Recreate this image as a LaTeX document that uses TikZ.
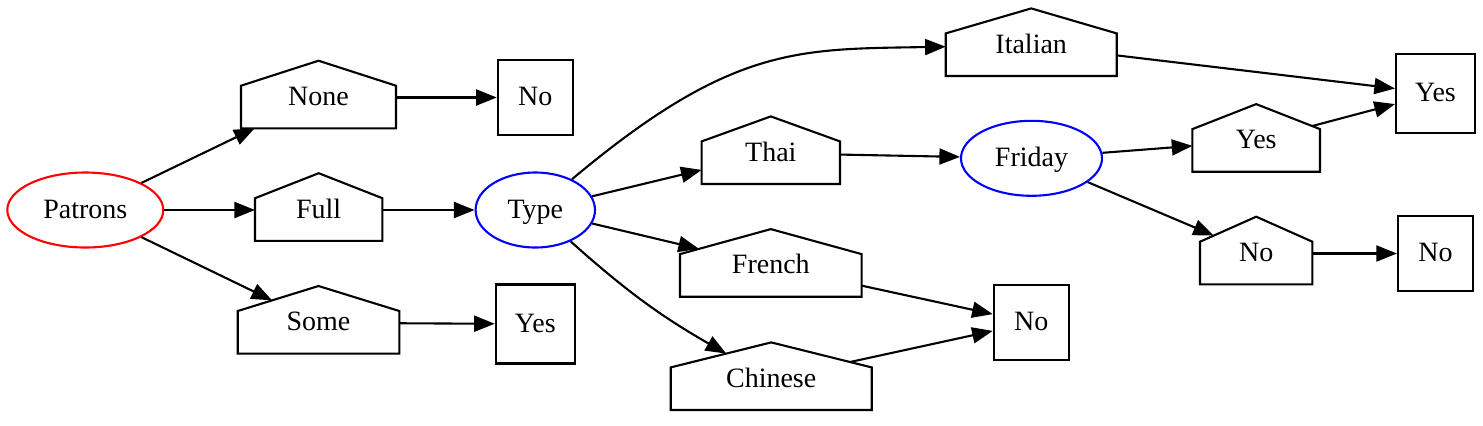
\documentclass[tikz,border=0pt]{standalone}
\usepackage{fontspec}
\setmainfont{Liberation Serif}
\usetikzlibrary{arrows.meta,shapes.geometric}
\makeatletter
\def\houseroof{12.5}
\def\houseup{3}
\pgfdeclareshape{house}{%
  \inheritsavedanchors[from=rectangle]%
  \inheritanchor[from=rectangle]{center}%
  \inheritanchor[from=rectangle]{north}%
  \inheritanchor[from=rectangle]{south}%
  \inheritanchor[from=rectangle]{east}%
  \inheritanchor[from=rectangle]{west}%
  \inheritanchor[from=rectangle]{north east}%
  \inheritanchor[from=rectangle]{north west}%
  \inheritanchor[from=rectangle]{south east}%
  \inheritanchor[from=rectangle]{south west}%
  \backgroundpath{%
    \southwest\edef\hs@x{\the\pgf@x}\edef\hs@y{\the\pgf@y}%
    \northeast\edef\hn@x{\the\pgf@x}\edef\hn@y{\the\pgf@y}%
    \pgfmathsetmacro\hm@x{(\hs@x+\hn@x)/2}%
    \pgfmathsetmacro\hp@y{\hn@y+\houseup}%
    \pgfmathsetmacro\hr@y{\hp@y-\houseroof}%
    \pgfpathmoveto{\pgfpoint{\hs@x}{\hs@y}}%
    \pgfpathlineto{\pgfpoint{\hn@x}{\hs@y}}%
    \pgfpathlineto{\pgfpoint{\hn@x}{\hr@y pt}}%
    \pgfpathlineto{\pgfpoint{\hm@x pt}{\hp@y pt}}%
    \pgfpathlineto{\pgfpoint{\hs@x}{\hr@y pt}}%
    \pgfpathclose
  }%
  \anchorborder{%
    \edef\hd@x{\the\pgf@x}\edef\hd@y{\the\pgf@y}%
    \southwest\edef\hs@x{\the\pgf@x}\edef\hs@y{\the\pgf@y}%
    \northeast\edef\hn@x{\the\pgf@x}\edef\hn@y{\the\pgf@y}%
    \pgfmathsetmacro\h@a{(\hn@x-\hs@x)/2}%
    \pgfmathsetmacro\h@b{(\hn@y-\hs@y)/2}%
    \pgfmathsetmacro\h@p{\h@b+\houseup}%
    \pgfmathsetmacro\h@s{\h@p-\houseroof}%
    \pgfmathsetmacro\h@l{max(veclen(\hd@x,\hd@y),0.001)}%
    \pgfmathsetmacro\h@dx{\hd@x/\h@l}%
    \pgfmathsetmacro\h@dy{\hd@y/\h@l}%
    \pgfmathsetmacro\h@t{\h@a/max(abs(\h@dx),0.01)}%
    \pgfmathtruncatemacro\h@c{\h@dy<0}%
    \ifnum\h@c=1
      \pgfmathsetmacro\h@t{min(\h@t,\h@b/max(abs(\h@dy),0.01))}%
    \else
      \pgfmathtruncatemacro\h@c{\h@a*\h@dy>\h@s*abs(\h@dx)}%
      \ifnum\h@c=1
        \pgfmathsetmacro\h@t{\h@p/(\h@dy+\houseroof*abs(\h@dx)/\h@a)}%
      \fi
    \fi
    \pgfmathsetmacro\h@x{\h@t*\h@dx+(\hs@x+\hn@x)/2}%
    \pgfmathsetmacro\h@y{\h@t*\h@dy+(\hs@y+\hn@y)/2}%
    \pgf@x=\h@x pt\relax
    \pgf@y=\h@y pt\relax
  }%
}
\makeatother
\begin{document}
\begin{tikzpicture}[x=0.5pt,y=-0.5pt,>={Triangle[length=10.3pt,width=8pt]},line width=1.05pt,
	every node/.style={font=\fontsize{14}{17}\selectfont,text height=9.5pt,text depth=1.5pt,inner sep=0pt},
	val/.style={shape=ellipse,draw,minimum height=37.5pt},
	choice/.style={shape=house,draw,outer sep=0pt,minimum height=30.8pt},
	leaf/.style={shape=rectangle,draw,minimum size=37.5pt}]
	\useasboundingbox (0,0) rectangle (1483,425);
	\node[val,red,minimum width=78pt]      (Pat)  at (85.3,210)     {\color{black}Patrons};
	\node[choice,minimum width=77.5pt]     (None) at (318.5,97.5)   {None};
	\node[choice,minimum width=63.7pt]     (Full) at (318.7,210)    {Full};
	\node[choice,minimum width=80.8pt]     (Some) at (318.5,322.8)  {Some};
	\node[leaf]                            (NoA)  at (535.3,97.5)   {No};
	\node[leaf,minimum size=39.5pt]        (YesA) at (535.3,324)    {Yes};
	\node[val,blue,minimum width=59.7pt]   (Type) at (535.3,210)    {\color{black}Type};
	\node[choice,minimum width=85.5pt]     (Ital) at (1031.2,45.2)  {Italian};
	\node[choice,minimum width=69.2pt]     (Thai) at (770.8,153.2)  {Thai};
	\node[choice,minimum width=90.8pt]     (Fren) at (770.8,265.9)  {French};
	\node[choice,minimum width=100.5pt]    (Chin) at (771.2,379.2)  {Chinese};
	\node[leaf]                            (NoB)  at (1031.3,322.5) {No};
	\node[val,blue,minimum width=70.5pt]   (Fri)  at (1031.5,158.3) {\color{black}Friday};
	\node[choice,minimum width=63.8pt]     (YesH) at (1256.2,140.9) {Yes};
	\node[choice,minimum width=56.2pt]     (NoH)  at (1256.2,253.5) {No};
	\node[leaf,minimum size=39.5pt]        (YesB) at (1435.5,93.3)  {Yes};
	\node[leaf]                            (NoC)  at (1435.5,253.5) {No};

	\path[->]
		(Pat)  edge (None)
		(Pat)  edge (Full)
		(Pat)  edge (Some)
		(None) edge (NoA)
		(Full) edge (Type)
		(Some) edge (YesA)
		(Type) edge [out=40,in=181,out looseness=1.35,in looseness=0.95] (Ital)
		(Type) edge (Thai)
		(Type) edge (Fren)
		(Type) edge [bend right=6] (Chin)
		(Ital) edge (YesB)
		(Thai) edge (Fri)
		(Fren) edge (NoB)
		(Chin) edge (NoB)
		(Fri)  edge (YesH)
		(Fri)  edge (NoH)
		(YesH) edge (YesB)
		(NoH)  edge (NoC);
\end{tikzpicture}
\end{document}
